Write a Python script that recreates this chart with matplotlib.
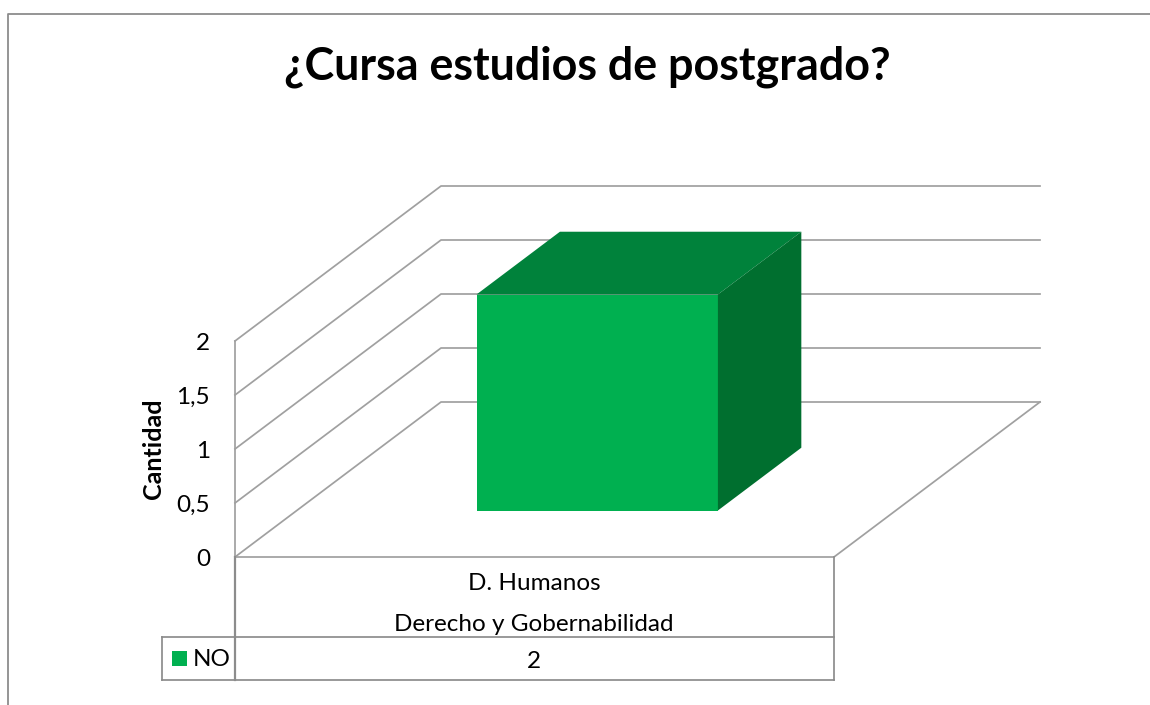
import matplotlib
matplotlib.use('Agg')
import matplotlib.pyplot as plt
from matplotlib.patches import Polygon, Rectangle

plt.rcParams['font.family'] = ['Lato', 'DejaVu Sans']

title = "¿Cursa estudios de postgrado?"
y_label = "Cantidad"
grid_values = [0, 0.5, 1, 1.5, 2]
tick_labels = ["0", "0,5", "1", "1,5", "2"]
categories = ["D. Humanos", "Derecho y Gobernabilidad"]
series_name = "NO"
series_values = [2]

# where the 3d box lands in the picture (pixels)
X0 = 235
Y0 = 557
WIDTH = 599
DEPTH_X = 206
DEPTH_Y = 155
PER_UNIT = 108

GREEN = '#00b050'
TOP = '#00823b'
SIDE = '#006f2f'
WALL = '#a0a0a0'
EDGE = '#8c8c8c'
BODY_SIZE = 17.5


def project(u, v, d):
    # u along the category axis, v value, d depth, all but v from 0 to 1
    return (X0 + WIDTH * u + DEPTH_X * d, Y0 - PER_UNIT * v - DEPTH_Y * d)


fig = plt.figure(figsize=(11.5, 7.05), dpi=100)
ax = fig.add_axes([0, 0, 1, 1])
ax.set_xlim(0, 1150)
ax.set_ylim(705, 0)
ax.axis('off')

# outer chart frame, only left and top show
ax.plot([7.5, 7.5, 1150], [705, 13.5, 13.5], color=EDGE, lw=1.3)

ax.text(587, 67, title, fontsize=32.3, fontweight='bold', ha='center', va='center')

# walls and floor
for v, lab in zip(grid_values, tick_labels):
    pts = [project(0, v, 0), project(0, v, 1), project(1, v, 1)]
    ax.plot([p[0] for p in pts], [p[1] for p in pts], color=WALL, lw=1.25, zorder=1)
    ax.text(210, project(0, v, 0)[1] + 2.5, lab, fontsize=BODY_SIZE, ha='right', va='center')

ax.plot(*zip(project(0, 0, 0), project(0, 2, 0)), color=WALL, lw=1.25, zorder=1)
ax.plot(*zip(project(1, 0, 1), project(1, 0, 0), project(0, 0, 0)), color=WALL, lw=1.25, zorder=1)

ax.text(153, 449, y_label, fontsize=18, fontweight='bold', rotation=90, ha='center', va='center')

# the bar
u0, u1 = 0.3, 0.703
d0, d1 = 0.3, 0.705
for val in series_values:
    ax.add_patch(Polygon([project(u0, 0, d0), project(u1, 0, d0), project(u1, val, d0), project(u0, val, d0)],
                         facecolor=GREEN, edgecolor='none', zorder=3))
    ax.add_patch(Polygon([project(u0, val, d0), project(u1, val, d0), project(u1, val, d1), project(u0, val, d1)],
                         facecolor=TOP, edgecolor='none', zorder=3))
    ax.add_patch(Polygon([project(u1, 0, d0), project(u1, 0, d1), project(u1, val, d1), project(u1, val, d0)],
                         facecolor=SIDE, edgecolor='none', zorder=3))

# data table below the floor
tl, tr = X0, X0 + WIDTH
ax.plot([tl, tl], [Y0, 680], color=EDGE, lw=1.6)
ax.plot([tr, tr], [Y0, 680], color=EDGE, lw=1.25)
ax.plot([162, tr], [637, 637], color=EDGE, lw=1.25)
ax.plot([162, tr], [680, 680], color=EDGE, lw=1.25)
ax.plot([162, 162], [637, 680], color=EDGE, lw=1.25)

ax.text(534, 584, categories[0], fontsize=BODY_SIZE, ha='center', va='center')
ax.text(534, 624.5, categories[1], fontsize=BODY_SIZE, ha='center', va='center')
ax.text(534, 661, str(series_values[0]), fontsize=BODY_SIZE, ha='center', va='center')

ax.add_patch(Rectangle((172, 651), 15, 15, facecolor=GREEN, edgecolor='none'))
ax.text(193, 660, series_name, fontsize=BODY_SIZE, ha='left', va='center')

fig.savefig('out.png', dpi=100)
